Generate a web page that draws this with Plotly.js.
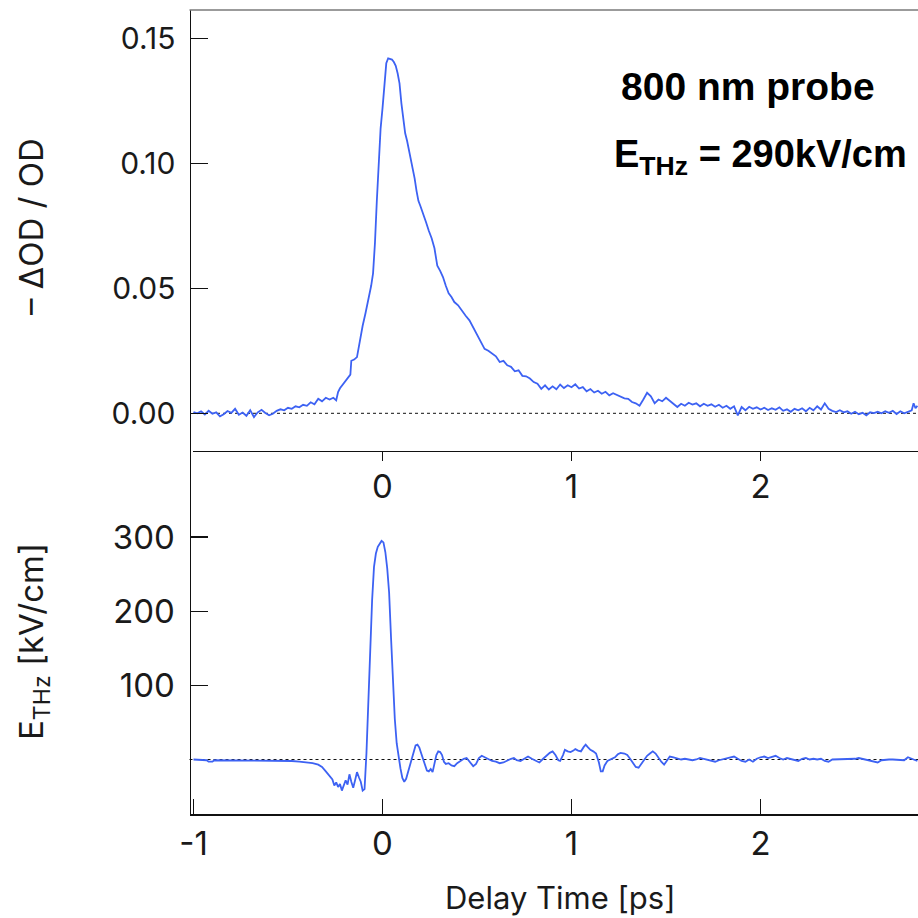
<!DOCTYPE html>
<html>
<head>
<meta charset="utf-8">
<script src="https://cdn.plot.ly/plotly-3.0.1.min.js"></script>
<style>html,body{margin:0;padding:0;background:#fff;}#chart{width:918px;height:918px;}</style>
</head>
<body>
<div id="chart"></div>
<script>
// ---- Data: top panel (-dOD/OD, 800 nm probe) ----
const delayOD = [-1.00,-0.98,-0.96,-0.94,-0.92,-0.90,-0.88,-0.86,-0.84,-0.82,-0.80,-0.78,-0.76,-0.74,-0.72,-0.70,-0.68,-0.66,-0.64,-0.62,-0.60,-0.58,-0.56,-0.54,-0.52,-0.50,-0.48,-0.46,-0.44,-0.42,-0.40,-0.38,-0.36,-0.34,-0.32,-0.30,-0.28,-0.26,-0.245,-0.235,-0.225,-0.21,-0.195,-0.18,-0.17,-0.165,-0.15,-0.135,-0.12,-0.105,-0.09,-0.075,-0.06,-0.05,-0.04,-0.03,-0.02,-0.01,0.00,0.01,0.02,0.03,0.04,0.05,0.06,0.07,0.08,0.09,0.10,0.11,0.12,0.13,0.14,0.15,0.16,0.17,0.18,0.19,0.20,0.215,0.23,0.245,0.26,0.275,0.29,0.305,0.32,0.335,0.35,0.365,0.38,0.40,0.42,0.44,0.46,0.48,0.50,0.52,0.54,0.56,0.58,0.60,0.62,0.64,0.66,0.68,0.70,0.72,0.74,0.76,0.78,0.80,0.82,0.84,0.86,0.88,0.90,0.92,0.94,0.96,0.98,1.00,1.02,1.04,1.06,1.08,1.10,1.12,1.14,1.16,1.18,1.20,1.22,1.24,1.26,1.28,1.30,1.32,1.34,1.36,1.38,1.40,1.42,1.44,1.46,1.48,1.50,1.52,1.54,1.56,1.58,1.60,1.62,1.64,1.66,1.68,1.70,1.72,1.74,1.76,1.78,1.80,1.82,1.84,1.86,1.88,1.90,1.92,1.94,1.96,1.98,2.00,2.02,2.04,2.06,2.08,2.10,2.12,2.14,2.16,2.18,2.20,2.22,2.24,2.26,2.28,2.30,2.32,2.34,2.36,2.38,2.40,2.42,2.44,2.46,2.48,2.50,2.52,2.54,2.56,2.58,2.60,2.62,2.64,2.66,2.68,2.70,2.72,2.74,2.76,2.78,2.80,2.81,2.82,2.83];
const odSignal = [0.0005,0.0000,0.0008,-0.0005,0.0010,-0.0002,0.0004,-0.0012,-0.0004,0.0009,0.0002,0.0018,-0.0006,0.0003,-0.0010,0.0012,-0.0015,0.0004,0.0014,0.0001,-0.0008,-0.0002,0.0010,0.0016,0.0012,0.0022,0.0018,0.0028,0.0024,0.0034,0.0030,0.0044,0.0036,0.0058,0.0048,0.0062,0.0055,0.0062,0.0052,0.0085,0.0100,0.0115,0.0130,0.0145,0.0155,0.0210,0.0215,0.0225,0.0290,0.0350,0.0400,0.0450,0.0510,0.0560,0.0680,0.0850,0.0990,0.1140,0.1220,0.1310,0.1400,0.1420,0.1418,0.1415,0.1405,0.1390,0.1360,0.1320,0.1240,0.1180,0.1120,0.1090,0.1055,0.1015,0.0975,0.0940,0.0890,0.0850,0.0830,0.0800,0.0765,0.0730,0.0700,0.0660,0.0590,0.0570,0.0545,0.0510,0.0480,0.0465,0.0445,0.0432,0.0410,0.0390,0.0372,0.0345,0.0318,0.0290,0.0258,0.0250,0.0238,0.0228,0.0205,0.0210,0.0192,0.0186,0.0168,0.0172,0.0150,0.0148,0.0139,0.0125,0.0118,0.0098,0.0112,0.0095,0.0108,0.0096,0.0115,0.0101,0.0112,0.0104,0.0116,0.0099,0.0105,0.0088,0.0097,0.0083,0.0090,0.0078,0.0086,0.0072,0.0080,0.0074,0.0068,0.0060,0.0058,0.0045,0.0040,0.0030,0.0055,0.0082,0.0068,0.0040,0.0055,0.0048,0.0062,0.0050,0.0040,0.0025,0.0038,0.0030,0.0042,0.0035,0.0040,0.0028,0.0038,0.0030,0.0036,0.0026,0.0034,0.0022,0.0030,0.0018,0.0028,-0.0008,0.0025,0.0012,0.0026,0.0018,0.0024,0.0015,0.0022,0.0013,0.0020,0.0014,0.0024,0.0010,0.0016,0.0006,0.0018,0.0012,0.0020,0.0008,0.0022,0.0012,0.0028,0.0015,0.0040,0.0018,0.0010,0.0005,0.0012,0.0004,0.0008,-0.0002,0.0006,-0.0004,0.0002,-0.0008,0.0004,0.0001,0.0006,0.0000,0.0008,0.0002,0.0010,-0.0003,0.0008,0.0000,0.0006,0.0012,0.0040,0.0020,0.0030];

// ---- Data: bottom panel (THz field, kV/cm) ----
const delayTHz = [-1.00,-0.96,-0.93,-0.92,-0.90,-0.89,-0.85,-0.83,-0.80,-0.75,-0.72,-0.70,-0.66,-0.64,-0.60,-0.56,-0.52,-0.48,-0.44,-0.40,-0.37,-0.34,-0.32,-0.30,-0.28,-0.265,-0.255,-0.245,-0.235,-0.225,-0.215,-0.205,-0.195,-0.185,-0.175,-0.165,-0.155,-0.145,-0.135,-0.125,-0.115,-0.105,-0.095,-0.085,-0.075,-0.065,-0.055,-0.045,-0.035,-0.025,-0.015,-0.005,0.005,0.015,0.025,0.035,0.045,0.055,0.065,0.075,0.085,0.095,0.105,0.115,0.125,0.135,0.145,0.155,0.165,0.175,0.185,0.195,0.205,0.215,0.225,0.235,0.245,0.255,0.265,0.275,0.285,0.295,0.305,0.315,0.325,0.335,0.35,0.365,0.38,0.395,0.41,0.43,0.445,0.46,0.48,0.495,0.51,0.525,0.54,0.56,0.58,0.60,0.62,0.64,0.66,0.68,0.695,0.71,0.73,0.75,0.77,0.79,0.81,0.83,0.85,0.87,0.885,0.90,0.915,0.93,0.94,0.955,0.965,0.98,0.995,1.01,1.02,1.035,1.05,1.065,1.075,1.085,1.10,1.115,1.13,1.145,1.155,1.165,1.175,1.19,1.21,1.23,1.245,1.26,1.28,1.295,1.31,1.325,1.34,1.355,1.37,1.385,1.40,1.415,1.43,1.445,1.46,1.475,1.49,1.505,1.52,1.54,1.56,1.58,1.60,1.62,1.64,1.66,1.68,1.70,1.72,1.74,1.76,1.78,1.80,1.82,1.84,1.86,1.88,1.90,1.92,1.94,1.96,1.98,2.00,2.02,2.04,2.06,2.08,2.10,2.12,2.14,2.16,2.18,2.20,2.22,2.24,2.26,2.28,2.30,2.32,2.34,2.36,2.38,2.40,2.42,2.44,2.46,2.48,2.50,2.52,2.54,2.56,2.58,2.60,2.62,2.64,2.66,2.68,2.70,2.72,2.74,2.76,2.78,2.80,2.82,2.83];
const eField = [0,0,-1,-3,-3,-1,-1,-2,-2,-2,-2,-1,-1,-2,-2,-2,-1,-2,-3,-4,-5,-7,-10,-16,-22,-27,-35,-31,-37,-33,-42,-36,-28,-34,-20,-30,-38,-28,-17,-24,-30,-42,-40,8,80,160,215,260,278,287,292,295,293,280,258,225,165,100,55,22,2,-12,-25,-30,-26,-17,-6,4,12,19,20,16,8,0,-8,-15,-16,-13,-17,-4,6,11,10,6,-3,-6,-5,-8,-9,-5,-2,1,2,-3,-9,-6,2,5,3,0,-2,-3,-5,-4,-1,1,2,-1,-2,1,4,1,-2,-4,1,6,9,11,6,-1,-2,6,13,11,10,12,14,12,11,17,20,17,13,11,8,-4,-16,-16,-8,-2,1,3,7,9,8,6,1,-4,-10,-11,-6,-1,5,8,11,8,2,-3,-7,-2,4,3,2,0,1,0,-1,0,2,1,0,-2,-3,-1,0,1,2,4,1,-2,-3,0,-3,1,3,4,2,3,5,2,0,2,1,-1,-2,1,2,0,1,0,1,-2,-3,0,0,0,0,0,0,1,2,1,-1,-2,-2,-4,-1,0,0,0,0,0,-1,3,1,-1,-2];

// ---- Text ----
const xTickVals = [-1, 0, 1, 2];
const xTickText = ['-1', '0', '1', '2'];
const odTickVals = [0, 0.05, 0.10, 0.15];
const odTickText = ['0.00', '0.05', '0.10', '0.15'];
const eTickVals = [100, 200, 300];
const eTickText = ['100', '200', '300'];

// ---- Geometry (pixels in a 918 x 918 page) ----
const W = 918, H = 918;
const px = v => v / W;
const py = v => 1 - v / H;
const x0px = 382.5, pxPerPs = 189;
const leftAxisPx = 189.5, topXStartPx = 193;
const xr = p => (p - x0px) / pxPerPs;

const lineColor = '#3d62f3';
const tickFont = {family: 'Inter, "DejaVu Sans", sans-serif', color: '#1a1a1a'};

const traces = [
  {x: delayOD, y: odSignal, xaxis: 'x', yaxis: 'y', type: 'scatter', mode: 'lines',
   line: {color: lineColor, width: 1.8}, hoverinfo: 'skip'},
  {x: delayTHz, y: eField, xaxis: 'x2', yaxis: 'y2', type: 'scatter', mode: 'lines',
   line: {color: lineColor, width: 1.8}, hoverinfo: 'skip'}
];

const axisLine = {showline: true, linecolor: '#111', linewidth: 1.5, showgrid: false, zeroline: false, tickcolor: '#111', tickwidth: 1.5};

const layout = {
  width: W, height: H,
  margin: {l: 0, r: 0, t: 0, b: 0, pad: 0},
  paper_bgcolor: '#fff', plot_bgcolor: 'rgba(0,0,0,0)',
  showlegend: false,
  xaxis: Object.assign({}, axisLine, {
    domain: [px(topXStartPx), 1], anchor: 'y',
    range: [xr(topXStartPx), xr(W)],
    tickmode: 'array', tickvals: xTickVals.slice(1), ticktext: xTickText.slice(1),
    ticks: 'outside', ticklen: 9, tickfont: Object.assign({size: 33}, tickFont), ticklabelstandoff: -3
  }),
  xaxis3: {
    overlaying: 'x', anchor: 'y', matches: 'x',
    tickmode: 'array', tickvals: xTickVals.slice(1), ticks: 'inside', ticklen: 9,
    tickcolor: '#111', tickwidth: 1.5, showticklabels: false, showline: false, showgrid: false, zeroline: false
  },
  yaxis: Object.assign({}, axisLine, {
    domain: [py(450.7), py(10)], anchor: 'free', position: px(leftAxisPx),
    range: [-(450.7 - 413.3) / 2500, (413.3 - 10) / 2500],
    tickmode: 'array', tickvals: odTickVals, ticktext: odTickText,
    ticks: 'inside', ticklen: 17, tickfont: Object.assign({size: 30}, tickFont), ticklabelstandoff: 8
  }),
  xaxis2: Object.assign({}, axisLine, {
    domain: [px(leftAxisPx), 1], anchor: 'y2',
    range: [xr(leftAxisPx), xr(W)],
    tickmode: 'array', tickvals: xTickVals, ticktext: xTickText,
    ticks: 'inside', ticklen: 15, tickfont: Object.assign({size: 33}, tickFont), ticklabelstandoff: 0
  }),
  yaxis2: Object.assign({}, axisLine, {
    domain: [py(814.3), py(450.7)], anchor: 'free', position: px(leftAxisPx),
    range: [-(814.3 - 759.5) / 0.741, (759.5 - 450.7) / 0.741],
    tickmode: 'array', tickvals: eTickVals, ticktext: eTickText,
    ticks: 'inside', ticklen: 17, tickfont: Object.assign({size: 33}, tickFont), ticklabelstandoff: 8
  }),
  shapes: [
    {type: 'line', xref: 'paper', yref: 'paper', x0: px(leftAxisPx), x1: 1, y0: py(10), y1: py(10),
     line: {color: '#7a7a7a', width: 1.5}},
    {type: 'line', xref: 'x domain', yref: 'y', x0: 0, x1: 1, y0: 0, y1: 0, layer: 'below',
     line: {color: '#111', width: 1, dash: 'dot'}},
    {type: 'line', xref: 'x2 domain', yref: 'y2', x0: 0, x1: 1, y0: 0, y1: 0, layer: 'below',
     line: {color: '#111', width: 1, dash: 'dot'}}
  ],
  annotations: [
    {text: '– ΔOD / OD', xref: 'paper', yref: 'paper', x: px(31), y: py(227), textangle: -90,
     showarrow: false, xanchor: 'center', yanchor: 'middle',
     font: {family: 'Inter, "DejaVu Sans", sans-serif', size: 33, color: '#1a1a1a'}},
    {text: 'E<sub>THz</sub> [kV/cm]', xref: 'paper', yref: 'paper', x: px(33), y: py(642), textangle: -90,
     showarrow: false, xanchor: 'center', yanchor: 'middle',
     font: {family: 'Inter, "DejaVu Sans", sans-serif', size: 33, color: '#1a1a1a'}},
    {text: 'Delay Time [ps]', xref: 'paper', yref: 'paper', x: px(560), y: py(897),
     showarrow: false, xanchor: 'center', yanchor: 'middle',
     font: {family: 'Inter, "DejaVu Sans", sans-serif', size: 31, color: '#1a1a1a'}},
    {text: '<b>800 nm probe</b>', xref: 'paper', yref: 'paper', x: px(748), y: py(86),
     showarrow: false, xanchor: 'center', yanchor: 'middle',
     font: {family: '"Liberation Sans", Arial, sans-serif', size: 39, color: '#000'}},
    {text: '<b>E<sub>THz</sub> = 290kV/cm</b>', xref: 'paper', yref: 'paper', x: px(760), y: py(157),
     showarrow: false, xanchor: 'center', yanchor: 'middle',
     font: {family: '"Liberation Sans", Arial, sans-serif', size: 38, color: '#000'}}
  ]
};

Plotly.newPlot('chart', traces, layout, {staticPlot: true, displayModeBar: false});
</script>
</body>
</html>
